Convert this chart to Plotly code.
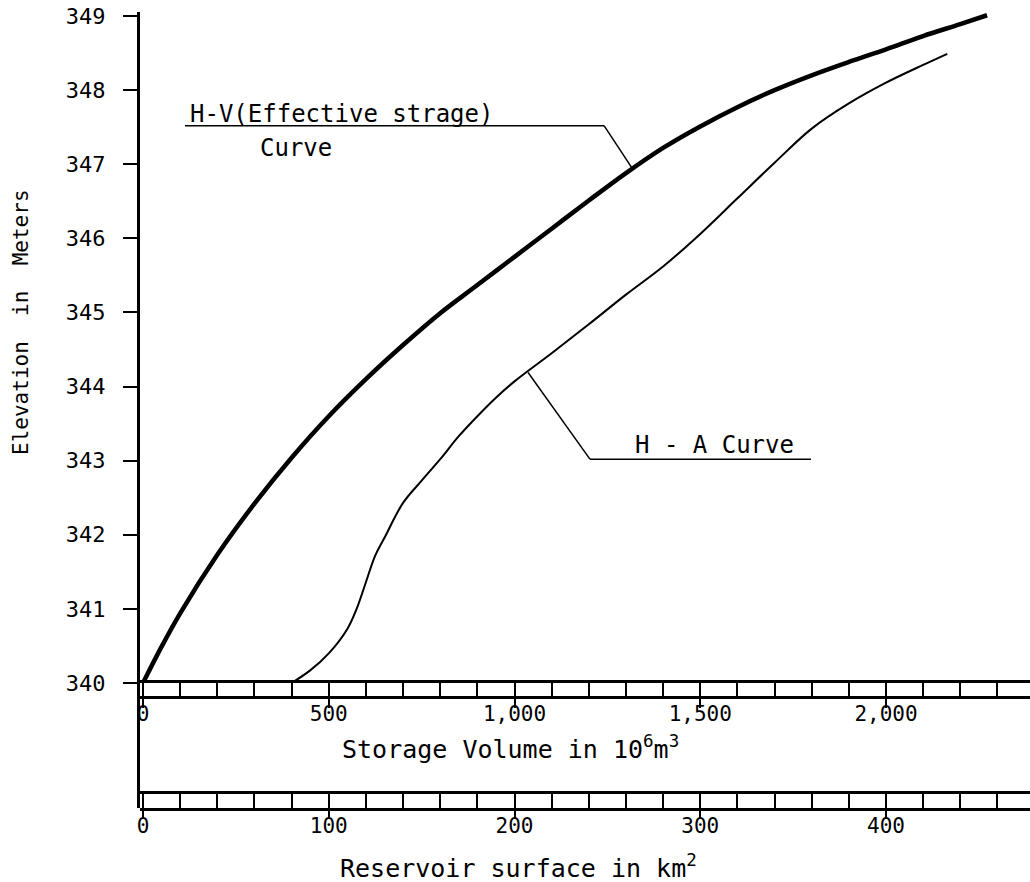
import plotly.graph_objects as go

# ---------------- data ----------------
hv_volume = [0, 50, 100, 200, 300, 400, 500, 600, 700, 800, 900, 1000, 1100, 1200,
             1300, 1400, 1500, 1600, 1700, 1800, 1900, 2000, 2100, 2200, 2272]
hv_elev = [340.00, 340.49, 340.94, 341.73, 342.42, 343.04, 343.60, 344.10, 344.56,
           344.99, 345.37, 345.75, 346.13, 346.51, 346.88, 347.22, 347.51, 347.77,
           348.00, 348.20, 348.38, 348.55, 348.73, 348.89, 349.01]

ha_area = [80, 90, 100, 110, 115, 120, 125, 130, 140, 150, 160, 170, 180, 190, 200,
           220, 240, 260, 280, 300, 320, 340, 360, 380, 400, 420, 433]
ha_elev = [340.00, 340.17, 340.40, 340.73, 341.00, 341.36, 341.72, 341.96, 342.43,
           342.73, 343.02, 343.33, 343.60, 343.85, 344.07, 344.45, 344.84, 345.24,
           345.62, 346.06, 346.54, 347.02, 347.48, 347.82, 348.10, 348.34, 348.49]

elev_ticks = [340, 341, 342, 343, 344, 345, 346, 347, 348, 349]
elev_labels = ["340", "341", "342", "343", "344", "345", "346", "347", "348", "349"]
vol_ticks = [0, 500, 1000, 1500, 2000]
vol_labels = ["0", "500", "1,000", "1,500", "2,000"]
area_ticks = [0, 100, 200, 300, 400]
area_labels = ["0", "100", "200", "300", "400"]

# ---------------- styling ----------------
FONT = "DejaVu Sans Mono"
BLACK = "black"
VOL_RANGE = [-8.08, 2387.6]
AREA_RANGE = [VOL_RANGE[0] / 5, VOL_RANGE[1] / 5]
ELEV_RANGE = [338.3133, 349.054]

fig = go.Figure()

fig.add_trace(go.Scatter(
    x=hv_volume, y=hv_elev, mode="lines", xaxis="x", yaxis="y",
    line=dict(color=BLACK, width=4.5, shape="spline", smoothing=1.0),
    showlegend=False, hoverinfo="skip"))
fig.add_trace(go.Scatter(
    x=ha_area, y=ha_elev, mode="lines", xaxis="x6", yaxis="y",
    line=dict(color=BLACK, width=2, shape="spline", smoothing=1.0),
    showlegend=False, hoverinfo="skip"))

# empty traces so that the scale-band axes exist
for xa, ya in [("x2", "y2"), ("x4", "y2"), ("x3", "y3"), ("x5", "y3")]:
    fig.add_trace(go.Scatter(x=[], y=[], xaxis=xa, yaxis=ya,
                             showlegend=False, hoverinfo="skip"))

band_vol_dom = [0.140704, 0.157035]
band_area_dom = [0.0, 0.017588]

tickfont = dict(family=FONT, size=22, color=BLACK)

fig.update_layout(
    width=1030, height=882,
    margin=dict(l=140, r=0, t=12, b=74),
    paper_bgcolor="white", plot_bgcolor="white",
    font=dict(family=FONT, color=BLACK),
    showlegend=False,
    xaxis=dict(range=VOL_RANGE, domain=[0, 1], anchor="y", visible=False),
    xaxis6=dict(range=AREA_RANGE, overlaying="x", anchor="y", visible=False),
    yaxis=dict(range=ELEV_RANGE, domain=[0, 1], anchor="x",
               showline=True, linewidth=3, linecolor=BLACK,
               ticks="outside", ticklen=14, tickwidth=1.5, tickcolor=BLACK,
               tickvals=elev_ticks, ticktext=elev_labels, tickfont=tickfont,
               ticklabelstandoff=13, showgrid=False, zeroline=False),
    # storage volume band
    yaxis2=dict(domain=band_vol_dom, range=[0, 1], anchor="x2", visible=False),
    xaxis2=dict(range=VOL_RANGE, anchor="y2", showline=True, mirror=True,
                linewidth=2.5, linecolor=BLACK, ticks="inside", ticklen=13,
                tickwidth=1.5, tickcolor=BLACK, tick0=0, dtick=100,
                showticklabels=False, showgrid=False, zeroline=False),
    xaxis4=dict(range=VOL_RANGE, anchor="y2", overlaying="x2", side="bottom",
                showline=False, ticks="outside", ticklen=11, tickwidth=1.5,
                tickcolor=BLACK, tickvals=vol_ticks, ticktext=vol_labels,
                tickfont=dict(family=FONT, size=21, color=BLACK),
                ticklabelstandoff=-12, showgrid=False, zeroline=False),
    # reservoir surface band
    yaxis3=dict(domain=band_area_dom, range=[0, 1], anchor="x3", visible=False),
    xaxis3=dict(range=AREA_RANGE, anchor="y3", showline=True, mirror=True,
                linewidth=2.5, linecolor=BLACK, ticks="inside", ticklen=14,
                tickwidth=1.5, tickcolor=BLACK, tick0=0, dtick=20,
                showticklabels=False, showgrid=False, zeroline=False),
    xaxis5=dict(range=AREA_RANGE, anchor="y3", overlaying="x3", side="bottom",
                showline=False, ticks="outside", ticklen=10, tickwidth=1.5,
                tickcolor=BLACK, tickvals=area_ticks, ticktext=area_labels,
                tickfont=dict(family=FONT, size=21, color=BLACK),
                ticklabelstandoff=-11, showgrid=False, zeroline=False),
)

# leader lines
line_style = dict(color=BLACK, width=1.5)
fig.add_shape(type="line", xref="x", yref="y", x0=113, y0=347.52, x1=1241, y1=347.52, line=line_style)
fig.add_shape(type="line", xref="x", yref="y", x0=1241, y0=347.52, x1=1316, y1=346.95, line=line_style)
fig.add_shape(type="line", xref="x6", yref="y", x0=207.3, y0=344.19, x1=240.6, y1=343.02, line=line_style)
fig.add_shape(type="line", xref="x6", yref="y", x0=240.6, y0=343.02, x1=359.6, y1=343.02, line=line_style)

lab = dict(family=FONT, size=24, color=BLACK)
fig.add_annotation(text="H-V(Effective strage)", xref="x", yref="y", x=121, y=347.68,
                   xanchor="left", yanchor="middle", showarrow=False, font=lab)
fig.add_annotation(text="Curve", xref="x", yref="y", x=412, y=347.22,
                   xanchor="center", yanchor="middle", showarrow=False, font=lab)
fig.add_annotation(text="H - A Curve", xref="x", yref="y", x=1319, y=343.21,
                   xanchor="left", yanchor="middle", showarrow=False, font=lab)
fig.add_annotation(text="Storage Volume in 10<sup>6</sup>m<sup>3</sup>", xref="x", yref="paper",
                   x=988, y=0.0754, xanchor="center", yanchor="middle", showarrow=False,
                   font=dict(family=FONT, size=25, color=BLACK))
fig.add_annotation(text="Reservoir surface in km<sup>2</sup>", xref="x", yref="paper",
                   x=1010, y=-0.0741, xanchor="center", yanchor="middle", showarrow=False,
                   font=dict(family=FONT, size=25, color=BLACK))
fig.add_annotation(text="Elevation\u00a0 in\u00a0 Meters", xref="paper", yref="paper",
                   x=-0.1337, y=0.6106, xanchor="center", yanchor="middle", textangle=-90,
                   showarrow=False, font=dict(family=FONT, size=21, color=BLACK))

fig.write_html("out.html", config={"displayModeBar": False},
               post_script="document.body.style.margin='0px';")
